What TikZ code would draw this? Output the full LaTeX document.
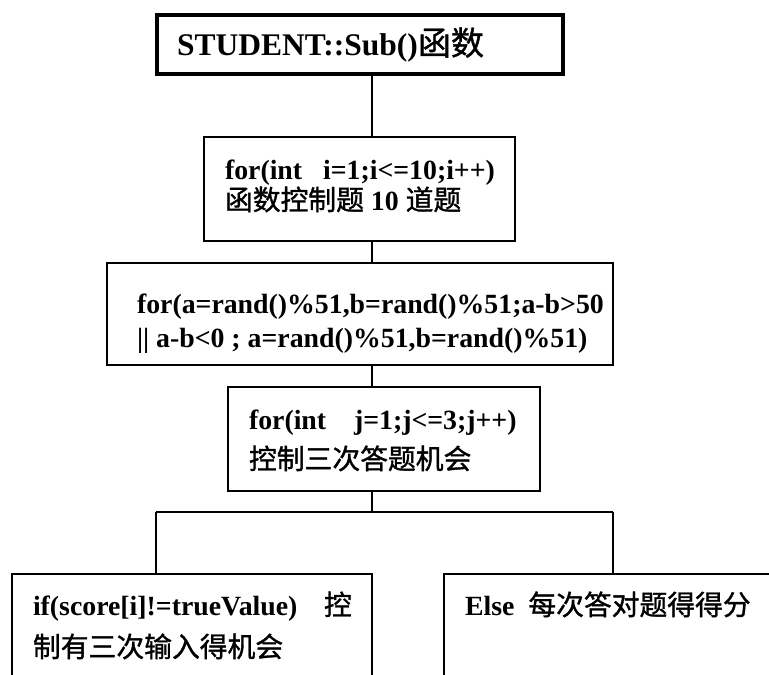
\documentclass[tikz,border=0pt]{standalone}
\usepackage{fontspec}
\setmainfont{Liberation Serif}
\newfontfamily\cjk[FakeBold=1.2]{Noto Sans CJK SC}
\newcommand{\zh}[1]{{\cjk\mdseries #1}}
\begin{document}
\begin{tikzpicture}[x=1pt, y=-1pt,
  box/.style={draw, line width=1.6pt, rectangle, inner sep=0pt, outer sep=0pt, anchor=north west},
  titlebox/.style={box, line width=4pt},
  link/.style={line width=1.6pt},
  txt/.style={anchor=base west, inner sep=0pt, outer sep=0pt, font=\bfseries\fontsize{27.8}{33}\selectfont},
  titletxt/.style={txt, font=\bfseries\fontsize{31.5}{36}\selectfont}]
\useasboundingbox (0,0) rectangle (769,675);
\clip (0,0) rectangle (769,675);

% boxes
\node[titlebox, minimum width=406pt, minimum height=59pt] (b1) at (156.5,14.5) {};
\node[box, minimum width=311pt, minimum height=104pt] (b2) at (204,137) {};
\node[box, minimum width=506pt, minimum height=102pt] (b3) at (107,263) {};
\node[box, minimum width=312pt, minimum height=104pt] (b4) at (228,387) {};
\node[box, minimum width=360pt, minimum height=140pt] (b5) at (12,574) {};
\node[box, minimum width=360pt, minimum height=140pt] (b6) at (444,574) {};

% texts
\node[titletxt] (t1) at (177,55) {STUDENT::Sub()\zh{\fontsize{33}{36}\selectfont 函数}};
\node[txt] (t2a) at (225,179) {for(int\ \ \ i=1;i\textless=10;i++)};
\node[txt] (t2b) at (225,210) {\zh{函数控制题} 10 \zh{道题}};
\node[txt] (t3a) at (137,313) {for(a=rand()\%51,b=rand()\%51;a-b\textgreater50};
\node[txt] (t3b) at (137,347) {|| a-b\textless0 ; a=rand()\%51,b=rand()\%51)};
\node[txt] (t4a) at (249,429) {for(int\ \ \ \ j=1;j\textless=3;j++)};
\node[txt] (t4b) at (249,469) {\zh{控制三次答题机会}};
\node[txt] (t5a) at (33,615) {if(score[i]!=trueValue)};
\node[txt] (t5c) at (324,615) {\zh{控}};
\node[txt] (t5b) at (33,657) {\zh{制有三次输入得机会}};
\node[txt] (t6) at (465,615) {Else\ \ \zh{每次答对题得得分}};

% connectors
\coordinate (spine) at (372,0);
\coordinate (fork) at (372,512);
\coordinate (forkL) at (156,512);
\coordinate (forkR) at (613,512);
\draw[link] (b1.south -| spine) -- (b2.north -| spine);
\draw[link] (b2.south -| spine) -- (b3.north -| spine);
\draw[link] (b3.south -| spine) -- (b4.north -| spine);
\draw[link] (b4.south -| spine) -- (fork);
\draw[link] (forkL) -- (forkR);
\draw[link] (forkL) -- (b5.north -| forkL);
\draw[link] (forkR) -- (b6.north -| forkR);
\end{tikzpicture}
\end{document}
